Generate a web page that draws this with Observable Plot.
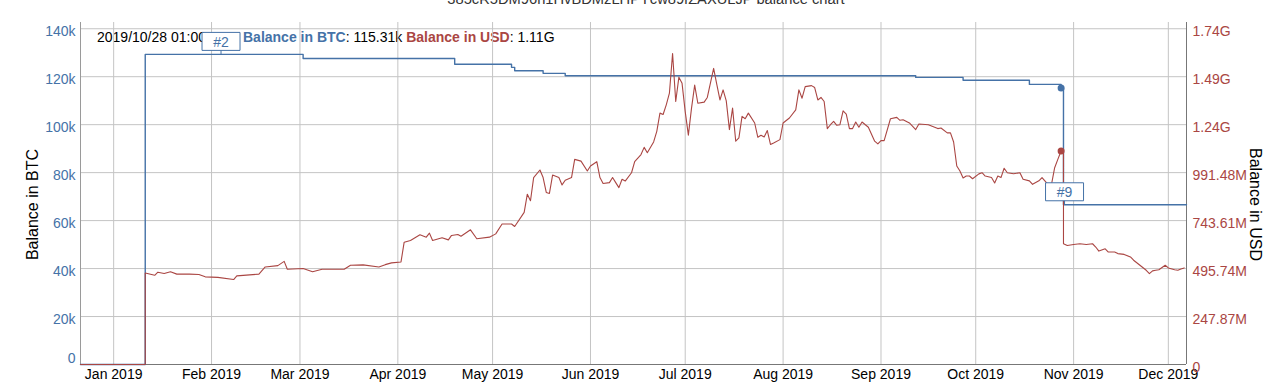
<!DOCTYPE html>
<html><head><meta charset="utf-8">
<script src="https://cdn.jsdelivr.net/npm/d3@7"></script>
<script src="https://cdn.jsdelivr.net/npm/@observablehq/plot@0.6"></script>
<style>
body{margin:0;background:#fff;font-family:"Liberation Sans",Arial,sans-serif;}
#wrap{position:relative;width:1280px;height:390px;overflow:hidden;background:#fff;}
#title{position:absolute;left:0;width:1292px;text-align:center;top:-8px;font-size:14.7px;line-height:15px;color:#333;z-index:2;}
#tip{position:absolute;left:97px;top:29px;font-size:14px;line-height:16px;color:#000;white-space:pre;z-index:0;}
#tip .rest{position:absolute;left:146px;top:0;}
#chart{position:absolute;left:0;top:0;z-index:1;}
</style></head><body>
<div id="wrap"><div id="tip"></div><div id="chart"></div><div id="title"></div></div>
<script>
// ---------- data ----------
const chartTitle = "385cR5DM96n1HvBDMzLHPYcw89fZAXULJP balance chart";
const btcSeriesName = "Balance in BTC";
const usdSeriesName = "Balance in USD";

const xStart = "2018-12-21T12:00Z";
const xEnd = "2019-12-06T18:00Z";

const btcDates = [xStart, "2019-01-11", "2019-03-02", "2019-04-19", "2019-05-07", "2019-05-08", "2019-05-17", "2019-05-24", "2019-09-12", "2019-09-27", "2019-10-18", "2019-10-28T01:00Z", "2019-10-28T19:00Z", xEnd];
const btcValues = [0, 129300, 127600, 125200, 123900, 122500, 121400, 120400, 119700, 118500, 116800, 115310, 66600, 66600];

const usdDates = [xStart,"2019-01-11","2019-01-11","2019-01-14","2019-01-15","2019-01-17","2019-01-19","2019-01-21","2019-01-25","2019-01-28","2019-01-30","2019-02-03","2019-02-08","2019-02-09","2019-02-16","2019-02-18","2019-02-22","2019-02-24","2019-02-25","2019-03-02","2019-03-05","2019-03-08","2019-03-15","2019-03-17","2019-03-21","2019-03-26","2019-03-28","2019-03-30","2019-04-02","2019-04-03","2019-04-05","2019-04-08","2019-04-10","2019-04-11","2019-04-12","2019-04-15","2019-04-17","2019-04-18","2019-04-20","2019-04-21","2019-04-24","2019-04-26","2019-04-30","2019-05-02","2019-05-04","2019-05-07","2019-05-08","2019-05-11","2019-05-12","2019-05-13","2019-05-14","2019-05-16","2019-05-17","2019-05-18","2019-05-19","2019-05-20","2019-05-22","2019-05-23","2019-05-24","2019-05-26","2019-05-27","2019-05-29","2019-05-31","2019-06-01","2019-06-03","2019-06-04","2019-06-05","2019-06-07","2019-06-08","2019-06-09","2019-06-10","2019-06-11","2019-06-12","2019-06-14","2019-06-15","2019-06-17","2019-06-18","2019-06-19","2019-06-21","2019-06-22","2019-06-23","2019-06-24","2019-06-25","2019-06-26","2019-06-27","2019-06-28","2019-06-29","2019-06-30","2019-07-01","2019-07-02","2019-07-03","2019-07-04","2019-07-05","2019-07-07","2019-07-08","2019-07-10","2019-07-11","2019-07-12","2019-07-13","2019-07-14","2019-07-15","2019-07-16","2019-07-17","2019-07-18","2019-07-19","2019-07-20","2019-07-21","2019-07-23","2019-07-24","2019-07-25","2019-07-26","2019-07-27","2019-07-28","2019-07-29","2019-07-31","2019-08-01","2019-08-03","2019-08-05","2019-08-06","2019-08-07","2019-08-08","2019-08-10","2019-08-11","2019-08-12","2019-08-13","2019-08-14","2019-08-15","2019-08-16","2019-08-17","2019-08-18","2019-08-19","2019-08-20","2019-08-21","2019-08-22","2019-08-23","2019-08-24","2019-08-25","2019-08-26","2019-08-28","2019-08-30","2019-08-31","2019-09-01","2019-09-02","2019-09-04","2019-09-06","2019-09-07","2019-09-08","2019-09-10","2019-09-12","2019-09-13","2019-09-16","2019-09-18","2019-09-19","2019-09-20","2019-09-22","2019-09-23","2019-09-24","2019-09-25","2019-09-26","2019-09-27","2019-09-28","2019-09-29","2019-09-30","2019-10-02","2019-10-03","2019-10-04","2019-10-06","2019-10-07","2019-10-08","2019-10-09","2019-10-10","2019-10-11","2019-10-13","2019-10-15","2019-10-16","2019-10-18","2019-10-19","2019-10-21","2019-10-22","2019-10-24","2019-10-25","2019-10-26","2019-10-27","2019-10-28T01:00Z","2019-10-28T19:00Z","2019-10-28T19:00Z","2019-10-30","2019-11-01","2019-11-03","2019-11-05","2019-11-07","2019-11-08","2019-11-09","2019-11-11","2019-11-12","2019-11-14","2019-11-15","2019-11-17","2019-11-19","2019-11-20","2019-11-22","2019-11-24","2019-11-25","2019-11-26","2019-11-27","2019-11-28","2019-11-30","2019-12-01","2019-12-03","2019-12-04","2019-12-05","2019-12-06"];
// USD balance, millions
const usdValuesM = [0,0,473,461,477,470,479,467,467,465,453,450,439,458,467,504,511,533,492,496,479,492,492,513,515,504,516,525,530,632,641,670,658,679,641,655,644,667,672,663,696,650,658,675,726,726,713,786,880,846,966,1005,966,889,884,979,966,928,952,966,1060,1051,1000,1026,1048,966,935,940,966,940,914,957,948,991,1048,1085,1122,1094,1150,1205,1299,1292,1342,1402,1607,1359,1485,1453,1307,1185,1325,1444,1350,1356,1380,1530,1448,1367,1419,1362,1214,1325,1154,1171,1282,1270,1299,1248,1174,1185,1176,1209,1137,1145,1162,1248,1274,1316,1419,1376,1436,1441,1431,1367,1380,1359,1219,1239,1256,1236,1239,1311,1294,1219,1219,1253,1226,1253,1226,1154,1140,1157,1157,1270,1277,1262,1265,1248,1214,1243,1239,1226,1219,1222,1197,1197,1150,1026,1000,964,974,974,960,985,991,974,966,938,974,966,1014,991,986,991,957,949,931,949,966,928,931,1017,1060,1103,1103,624,615,620,624,620,624,607,586,598,581,581,573,569,556,539,513,487,470,484,487,490,513,499,490,487,494,499];

const btcTicks = [0, 20000, 40000, 60000, 80000, 100000, 120000, 140000];
const btcTickLabels = ["0", "20k", "40k", "60k", "80k", "100k", "120k", "140k"];
const usdTickLabels = ["0", "247.87M", "495.74M", "743.61M", "991.48M", "1.24G", "1.49G", "1.74G"];

const monthTicks = ["2019-01-01","2019-02-01","2019-03-01","2019-04-01","2019-05-01","2019-06-01","2019-07-01","2019-08-01","2019-09-01","2019-10-01","2019-11-01","2019-12-01"];
const monthLabels = ["Jan 2019","Feb 2019","Mar 2019","Apr 2019","May 2019","Jun 2019","Jul 2019","Aug 2019","Sep 2019","Oct 2019","Nov 2019","Dec 2019"];

const flagDates = ["2019-02-04", "2019-10-29T03:00Z"];
const flagLabels = ["#2", "#9"];
const flagBtc = [129300, 66600];

const hoverDate = "2019-10-28T01:00Z";
const hoverText = "2019/10/28 01:00";
const hoverBtc = 115310, hoverBtcText = "115.31k";
const hoverUsdM = 1103, hoverUsdText = "1.11G";

// ---------- build ----------
const blue = "#4572A7", red = "#AA4643";
const usdPerBtcUnit = 247.87e6 / 20000; // right axis step / left axis step
const toBtcScale = m => m * 1e6 / usdPerBtcUnit;

const btcData = btcDates.map((d, i) => ({date: new Date(d), v: btcValues[i]}));
const usdData = usdDates.map((d, i) => ({date: new Date(d), v: toBtcScale(usdValuesM[i])}));
const months = monthTicks.map(d => new Date(d));
const flags = flagDates.map((d, i) => ({date: new Date(d), v: flagBtc[i], label: flagLabels[i]}));
const hover = [{date: new Date(hoverDate), b: hoverBtc, u: toBtcScale(hoverUsdM)}];

const flagShape = {draw(ctx) {
  ctx.moveTo(-19, -22); ctx.lineTo(19, -22); ctx.lineTo(19, -4); ctx.lineTo(-19, -4); ctx.closePath();
  ctx.moveTo(0, -4); ctx.lineTo(0, 0);
}};

const font = "Liberation Sans, Arial, Helvetica, sans-serif";
const xDomain = [new Date(xStart), new Date(xEnd)];

const chart = Plot.plot({
  width: 1280, height: 390,
  marginLeft: 80, marginRight: 94, marginTop: 22, marginBottom: 26,
  style: {background: "transparent", fontFamily: font, fontSize: "14px", overflow: "visible"},
  x: {type: "utc", domain: xDomain},
  y: {domain: [0, 142600]},
  marks: [
    Plot.gridX(months, {stroke: "#c4c4c4", strokeOpacity: 1}),
    Plot.gridY(btcTicks, {stroke: "#c4c4c4", strokeOpacity: 1}),
    Plot.ruleX([xDomain[0]], {stroke: "#9a9a9a"}),
    Plot.ruleX([xDomain[1]], {stroke: "#777"}),
    Plot.ruleY([0], {stroke: "#777"}),
    Plot.line(btcData, {x: "date", y: "v", stroke: blue, strokeWidth: 1.4, curve: "step-after"}),
    Plot.line(usdData, {x: "date", y: "v", stroke: red, strokeWidth: 1.1, curve: "linear"}),
    Plot.dot(hover, {x: "date", y: "b", fill: blue, r: 3.5}),
    Plot.dot(hover, {x: "date", y: "u", fill: red, r: 3.5}),
    Plot.dot(flags, {x: "date", y: "v", symbol: flagShape, r: 5, fill: "white", stroke: blue, strokeWidth: 1}),
    Plot.text(flags, {x: "date", y: "v", text: "label", dy: -12, fill: blue, fontSize: 14}),
    Plot.axisX(months, {tickSize: 0, tickPadding: 5, fontSize: 14, fill: "#000", label: null,
      tickFormat: d => monthLabels[d.getUTCMonth()]}),
    Plot.axisY(btcTicks.slice(1), {anchor: "left", tickSize: 0, tickPadding: 5, dy: 3, fontSize: 14, fill: blue, label: null,
      tickFormat: d => btcTickLabels[btcTicks.indexOf(d)]}),
    Plot.axisY([0], {anchor: "left", tickSize: 0, tickPadding: 5, dy: -6, fontSize: 14, fill: blue, label: null,
      tickFormat: d => btcTickLabels[btcTicks.indexOf(d)]}),
    Plot.axisY(btcTicks, {anchor: "right", tickSize: 0, tickPadding: 6, dy: 3, fontSize: 14, fill: red, label: null,
      tickFormat: d => usdTickLabels[btcTicks.indexOf(d)]}),
    Plot.text([btcSeriesName], {frameAnchor: "left", textAnchor: "middle", rotate: -90, dx: -48, dy: 11, fontSize: 16, fill: "#000"}),
    Plot.text([usdSeriesName], {frameAnchor: "right", textAnchor: "middle", rotate: 90, dx: 69, dy: 11, fontSize: 16, fill: "#000"})
  ]
});
document.getElementById("chart").appendChild(chart);

document.getElementById("title").textContent = chartTitle;
const tip = document.getElementById("tip");
tip.innerHTML = "";
const s1 = document.createElement("span"); s1.textContent = hoverText; tip.appendChild(s1);
const rest = document.createElement("span"); rest.className = "rest";
const b1 = document.createElement("b"); b1.style.color = blue; b1.textContent = btcSeriesName;
const b2 = document.createElement("b"); b2.style.color = red; b2.textContent = usdSeriesName;
rest.append(b1, ": " + hoverBtcText + " ", b2, ": " + hoverUsdText);
tip.appendChild(rest);
</script>
</body></html>
